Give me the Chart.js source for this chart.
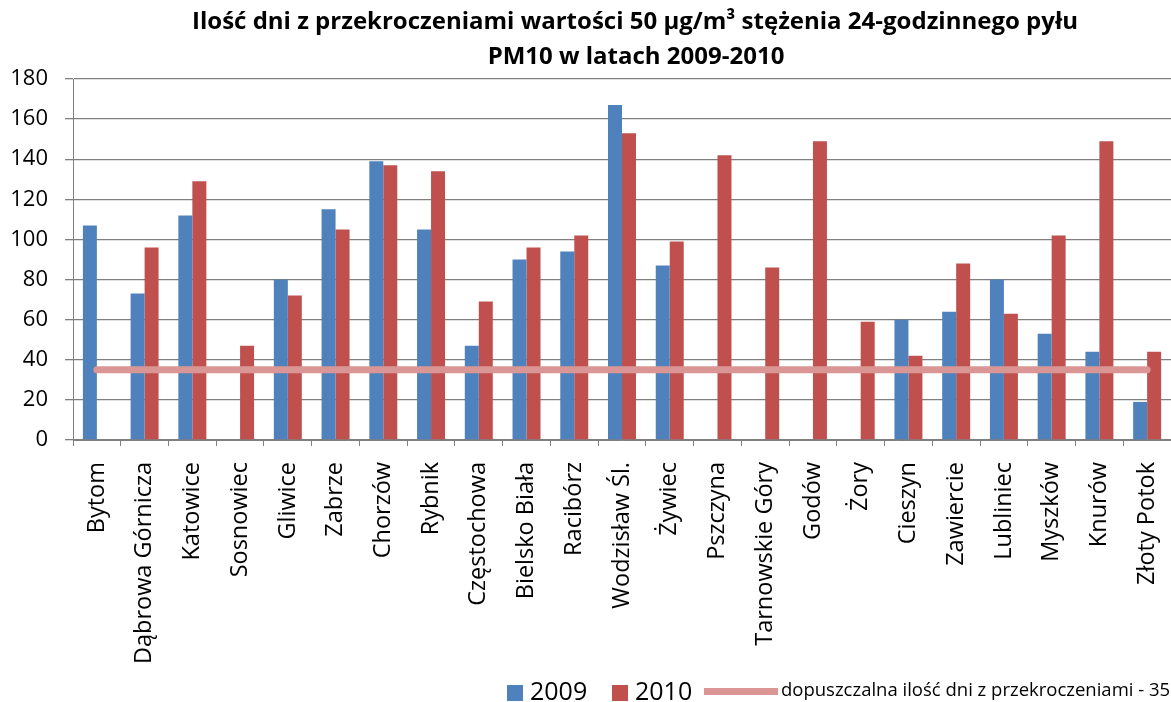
<!DOCTYPE html>
<html>
<head>
<meta charset="utf-8">
<script src="https://cdn.jsdelivr.net/npm/chart.js@4.4.1/dist/chart.umd.min.js"></script>
<style>
  html, body { margin: 0; padding: 0; background: #fff; }
  #wrap { width: 1171px; height: 702px; position: relative; }
</style>
</head>
<body>
<div id="wrap"><canvas id="c" width="1171" height="702"></canvas></div>
<script>
const titleLines = ["Ilość dni z przekroczeniami wartości 50 µg/m³ stężenia 24-godzinnego pyłu", "PM10 w latach 2009-2010"];
const categories = ["Bytom", "Dąbrowa Górnicza", "Katowice", "Sosnowiec", "Gliwice", "Zabrze", "Chorzów", "Rybnik", "Częstochowa", "Bielsko Biała", "Racibórz", "Wodzisław Śl.", "Żywiec", "Pszczyna", "Tarnowskie Góry", "Godów", "Żory", "Cieszyn", "Zawiercie", "Lubliniec", "Myszków", "Knurów", "Złoty Potok"];
const values2009 = [107, 73, 112, null, 80, 115, 139, 105, 47, 90, 94, 167, 87, null, null, null, null, 60, 64, 80, 53, 44, 19];
const values2010 = [null, 96, 129, 47, 72, 105, 137, 134, 69, 96, 102, 153, 99, 142, 86, 149, 59, 42, 88, 63, 102, 149, 44];
const limitValue = 35;
const limitLabel = "dopuszczalna ilość dni z przekroczeniami - 35";
const seriesLabels = ["2009", "2010"];
const yTicks = [0, 20, 40, 60, 80, 100, 120, 140, 160, 180];

const FONT = "'Open Sans', 'DejaVu Sans', sans-serif";
const blue = "#4F81BD", red = "#C0504D", pink = "#D99694";

const customText = {
  id: 'customText',
  afterDraw(chart) {
    const ctx = chart.ctx;
    ctx.save();
    // title
    ctx.fillStyle = '#000';
    ctx.font = "bold 24px " + FONT;
    ctx.textAlign = 'center';
    ctx.textBaseline = 'middle';
    ctx.fillText(titleLines[0], 635, 22);
    ctx.fillText(titleLines[1], 636, 57);
    // legend
    const ly = 693;
    ctx.textAlign = 'left';
    ctx.fillStyle = blue;
    ctx.fillRect(507, ly - 8, 16, 16);
    ctx.fillStyle = '#000';
    ctx.font = "25px " + FONT;
    ctx.fillText(chart.data.datasets[1].label, 530, ly);
    ctx.fillStyle = red;
    ctx.fillRect(612, ly - 8, 16, 16);
    ctx.fillStyle = '#000';
    ctx.fillText(chart.data.datasets[2].label, 635, ly);
    ctx.strokeStyle = pink;
    ctx.lineWidth = 7;
    ctx.beginPath();
    ctx.moveTo(704, ly - 1.5);
    ctx.lineTo(778, ly - 1.5);
    ctx.stroke();
    ctx.font = "18.5px " + FONT;
    ctx.fillStyle = '#000';
    ctx.fillText(chart.data.datasets[0].label, 781, ly - 2);
    ctx.restore();
  }
};

new Chart(document.getElementById('c'), {
  type: 'bar',
  data: {
    labels: categories,
    datasets: [
      {
        type: 'line',
        label: limitLabel,
        data: categories.map(() => limitValue),
        borderColor: pink,
        borderWidth: 7,
        borderCapStyle: 'round',
        pointRadius: 0,
        fill: false,
        order: 0
      },
      { label: seriesLabels[0], data: values2009, backgroundColor: blue, order: 1,
        categoryPercentage: 0.586, barPercentage: 1.0 },
      { label: seriesLabels[1], data: values2010, backgroundColor: red, order: 1,
        categoryPercentage: 0.586, barPercentage: 1.0 }
    ]
  },
  options: {
    responsive: false,
    animation: false,
    layout: { padding: { top: 79, left: 0, right: 0, bottom: 0 } },
    plugins: {
      legend: { display: false },
      title: { display: false },
      tooltip: { enabled: false }
    },
    scales: {
      x: {
        offset: true,
        grid: { display: true, drawOnChartArea: false, drawTicks: true, tickLength: 6, offset: true, color: '#7f7f7f' },
        border: { display: true, color: '#7f7f7f' },
        ticks: { minRotation: 90, maxRotation: 90, autoSkip: false, padding: 16, color: '#000', font: { family: FONT, size: 23.5 } },
        afterFit(scale) { scale.height = 262; scale.paddingLeft = 0; scale.paddingRight = 0; }
      },
      y: {
        min: 0, max: 180,
        afterBuildTicks(scale) { scale.ticks = yTicks.map(v => ({ value: v })); },
        grid: { color: '#7f7f7f', lineWidth: 1.3, drawTicks: true, tickLength: 8 },
        border: { display: true, color: '#7f7f7f' },
        ticks: { color: '#000', padding: 17, font: { family: FONT, size: 22 } },
        afterFit(scale) { scale.width = 73; scale.paddingTop = 0; scale.paddingBottom = 0; }
      }
    }
  },
  plugins: [customText]
});
</script>
</body>
</html>
